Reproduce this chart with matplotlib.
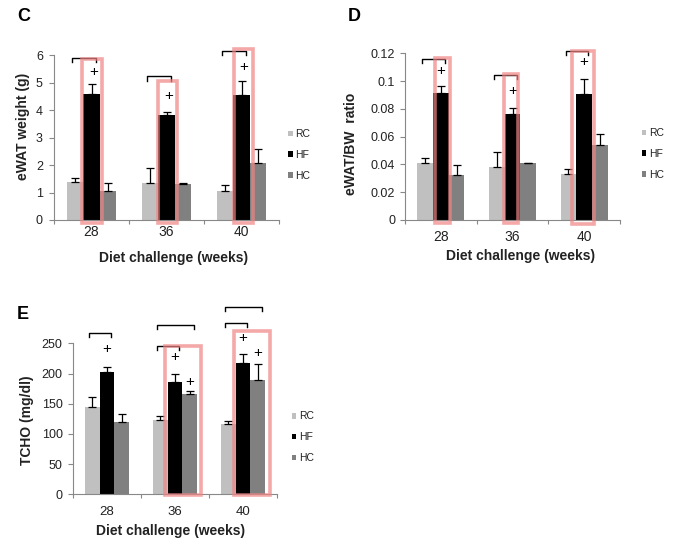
import matplotlib
matplotlib.use("Agg")
import matplotlib.pyplot as plt
from matplotlib.patches import Rectangle

plt.rcParams['font.family'] = ['Liberation Sans', 'DejaVu Sans']

weeks = ['28', '36', '40']
series = ['RC', 'HF', 'HC']
colors = ['#C0C0C0', '#000000', '#808080']

# Panel C: eWAT weight (g)
c_rc = [1.37, 1.35, 1.07]
c_hf = [4.57, 3.82, 4.55]
c_hc = [1.05, 1.31, 2.06]
c_rc_err = [0.17, 0.53, 0.19]
c_hf_err = [0.36, 0.12, 0.49]
c_hc_err = [0.31, 0.02, 0.51]

# Panel D: eWAT/BW ratio
d_rc = [0.0408, 0.0379, 0.0331]
d_hf = [0.0912, 0.0763, 0.0907]
d_hc = [0.0324, 0.0408, 0.0540]
d_rc_err = [0.0036, 0.0113, 0.0038]
d_hf_err = [0.0053, 0.0041, 0.0106]
d_hc_err = [0.0072, 0.0005, 0.0077]

# Panel E: TCHO (mg/dl)
e_rc = [144, 122.5, 116.4]
e_hf = [202, 186, 217]
e_hc = [119, 165.6, 189]
e_rc_err = [17.6, 7.5, 5.6]
e_hf_err = [9, 14, 15]
e_hc_err = [14, 6, 26]

# significance brackets: (week index, from series, to series, level)
c_brackets = [(0, 0, 1, 5.90), (1, 0, 1, 5.23), (2, 0, 1, 6.16)]
d_brackets = [(0, 0, 1, 0.1159), (1, 0, 1, 0.1046), (2, 0, 1, 0.1219)]
e_brackets = [(0, 0, 1, 266.6), (1, 0, 1, 246), (1, 0, 2, 280),
              (2, 0, 1, 284), (2, 0, 2, 309.6)]
# '+' markers: (week index, series, level)
c_plus = [(0, 1, 5.40), (1, 1, 4.50), (2, 1, 5.57)]
d_plus = [(0, 1, 0.1075), (1, 1, 0.0929), (2, 1, 0.1135)]
e_plus = [(0, 1, 240), (1, 1, 227), (1, 2, 186), (2, 1, 258), (2, 2, 234)]
# highlight boxes: (week index, left offset, right offset, bottom, top)
c_boxes = [(0, -0.13, 0.14, -0.11, 5.85), (1, -0.12, 0.14, -0.11, 5.05),
           (2, -0.10, 0.157, -0.11, 6.22)]
d_boxes = [(0, -0.08, 0.13, -0.002, 0.1166), (1, -0.115, 0.08, -0.002, 0.1051),
           (2, -0.17, 0.135, -0.003, 0.1218)]
e_boxes = [(1, -0.14, 0.375, -1.5, 246), (2, -0.13, 0.39, -1.5, 270)]

fig = plt.figure(figsize=(6.78, 5.47), dpi=100)

BW = 0.22
TXT = '#222222'
SP = '#888888'


def panel(rect, vals, errs, ymax, ystep, yfmt, ylabel, ylab_xy, xlab_xy,
          ytick_pad, xtick_pad, xtick_fs, leg_xy, brackets, drop, pluses,
          plus_dx, boxes, letter, letter_xy):
    ax = fig.add_axes(rect)
    n = len(weeks)
    for i, (v, e) in enumerate(zip(vals, errs)):
        xs = [k + (i - 1) * BW for k in range(n)]
        ax.bar(xs, v, width=BW, color=colors[i], label=series[i], zorder=2)
        ax.errorbar(xs, v, yerr=[[0] * n, e], fmt='none', ecolor='black',
                    elinewidth=0.9, capsize=2.8, capthick=0.9, zorder=3)
    ax.set_xlim(-0.5, n - 0.5)
    ax.set_ylim(0, ymax)
    yt = [round(k * ystep, 6) for k in range(int(round(ymax / ystep)) + 1)]
    ax.set_yticks(yt)
    ax.set_yticklabels([yfmt(t) for t in yt])
    ax.set_xticks(range(n))
    ax.set_xticklabels(weeks)
    ax.set_xticks([k - 0.5 for k in range(n + 1)], minor=True)
    ax.tick_params(axis='x', which='major', length=0, pad=xtick_pad,
                   labelsize=xtick_fs, labelcolor=TXT)
    ax.tick_params(axis='x', which='minor', length=3, width=0.8, color=SP,
                   direction='out')
    ax.tick_params(axis='y', length=3.5, width=0.8, color=SP, pad=ytick_pad,
                   labelsize=9, labelcolor=TXT)
    for s in ['top', 'right']:
        ax.spines[s].set_visible(False)
    for s in ['left', 'bottom']:
        ax.spines[s].set_color(SP)
        ax.spines[s].set_linewidth(0.8)
    ax.set_ylabel(ylabel, fontsize=10, fontweight='bold', color=TXT)
    ax.yaxis.set_label_coords(*ylab_xy)
    ax.set_xlabel('Diet challenge (weeks)', fontsize=10, fontweight='bold',
                  color=TXT, va='top')
    ax.xaxis.set_label_coords(*xlab_xy)
    ax.legend(loc='center left', bbox_to_anchor=leg_xy, frameon=False,
              fontsize=7.5, handlelength=0.45, handleheight=0.45,
              handletextpad=0.25, labelspacing=1.05, borderpad=0,
              borderaxespad=0, labelcolor=TXT)
    for (k, a, b, y) in brackets:
        x0 = k + (a - 1) * BW - 0.04
        x1 = k + (b - 1) * BW + 0.06
        ax.plot([x0, x0, x1, x1], [y - drop, y, y, y - drop], color='black',
                lw=1.0, clip_on=False, zorder=4)
    for (k, s, y) in pluses:
        ax.text(k + (s - 1) * BW + plus_dx, y, '+', ha='center', va='center',
                fontsize=11, color='black', zorder=5, clip_on=False)
    for (k, l, r, b0, t0) in boxes:
        ax.add_patch(Rectangle((k + l, b0), r - l, t0 - b0, fill=False,
                               edgecolor='#F08484', alpha=0.7, lw=2.6,
                               clip_on=False, zorder=6))
    fig.text(letter_xy[0], letter_xy[1], letter, fontsize=13,
             fontweight='bold', ha='left', va='top', color='black')
    return ax


panel([54 / 678, 1 - 220 / 547, 225 / 678, 165 / 547],
      [c_rc, c_hf, c_hc], [c_rc_err, c_hf_err, c_hc_err],
      6, 1, lambda t: '%d' % t, 'eWAT weight (g)', (-0.108, 0.57),
      (0.53, -0.188), 4.5, 3.6, 10, (1.04, 0.394),
      c_brackets, 0.17, c_plus, 0.03, c_boxes, 'C', (0.025, 0.985))

panel([405 / 678, 1 - 220 / 547, 215 / 678, 166.7 / 547],
      [d_rc, d_hf, d_hc], [d_rc_err, d_hf_err, d_hc_err],
      0.12, 0.02, lambda t: ('%g' % t), 'eWAT/BW  ratio', (-0.22, 0.459),
      (0.537, -0.174), 3.6, 7, 10, (1.10, 0.396),
      d_brackets, 0.0031, d_plus, 0.0, d_boxes, 'D', (0.513, 0.985))

panel([73 / 678, 1 - 494.3 / 547, 204 / 678, 151 / 547],
      [e_rc, e_hf, e_hc], [e_rc_err, e_hf_err, e_hc_err],
      250, 50, lambda t: '%d' % t, 'TCHO (mg/dl)', (-0.19, 0.49),
      (0.48, -0.197), 4, 8.5, 9.5, (1.072, 0.377),
      e_brackets, 6.6, e_plus, 0.0, e_boxes, 'E', (0.025, 0.44))

fig.savefig('out.png', dpi=100)
